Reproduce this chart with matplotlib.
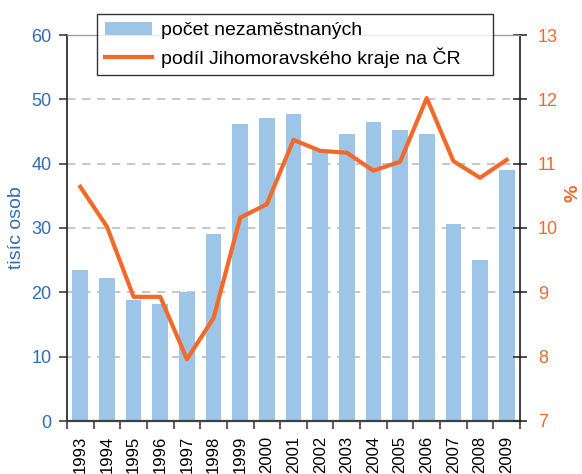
import numpy as np
import matplotlib
matplotlib.use('Agg')
import matplotlib.pyplot as plt

plt.rcParams['font.family'] = ['Liberation Sans', 'DejaVu Sans']

years = ['1993', '1994', '1995', '1996', '1997', '1998', '1999', '2000', '2001',
         '2002', '2003', '2004', '2005', '2006', '2007', '2008', '2009']
nezam = [23.5, 22.2, 18.8, 18.2, 20.1, 29.1, 46.2, 47.1, 47.7,
         42.1, 44.6, 46.5, 45.3, 44.6, 30.6, 25.0, 39.0]
podil = [10.64, 10.02, 8.93, 8.93, 7.96, 8.6, 10.16, 10.37, 11.37,
         11.2, 11.17, 10.89, 11.03, 12.02, 11.04, 10.78, 11.06]

blue = '#2f6db5'
orange = '#f26a2a'
bar_col = '#9dc5e8'

fig = plt.figure(figsize=(5.82, 4.74), dpi=100)
ax = fig.add_axes([67/582, 53/474, 453/582, 386/474])
ax2 = ax.twinx()

x = np.arange(len(years))
b = ax.bar(x, nezam, width=0.59, color=bar_col, zorder=2, label='počet nezaměstnaných')
l, = ax2.plot(x, podil, color=orange, lw=3, zorder=3, label='podíl Jihomoravského kraje na ČR')

ax.set_xlim(-0.5, len(years) - 0.5)
ax.set_ylim(0, 60)
ax.set_yticks(range(0, 61, 10))
ax2.set_ylim(7, 13)
ax2.set_yticks(range(7, 14))

for yv in range(10, 60, 10):
    ax.axhline(yv, color='#bdbdbd', lw=1.2, ls=(0, (5, 4)), zorder=1)

ax.set_xticks(x)
ax.set_xticklabels(years, rotation=90, fontsize=12,
                   family=['Liberation Sans Narrow', 'Liberation Sans'])
ax.tick_params(axis='x', which='major', length=0, pad=10.5)
ax.set_xticks(np.arange(-0.5, len(years)), minor=True)
ax.tick_params(axis='x', which='minor', length=6, width=1.2, color='#404040', direction='out')

ax.tick_params(axis='y', labelsize=13, labelcolor=blue, length=6, width=1.2, direction='out', color='#404040', pad=5)
ax2.tick_params(axis='y', labelsize=13, labelcolor=orange, length=10, width=1.2, direction='inout', color='#303030', pad=8)

ax.spines['top'].set_color('#999999')
ax2.spines['top'].set_color('#999999')
ax.spines['bottom'].set_color('#404040')
ax.spines['bottom'].set_linewidth(1.6)
ax2.spines['bottom'].set_visible(False)
ax.spines['left'].set_linewidth(1.2)
ax.spines['left'].set_color('#202020')
ax2.spines['right'].set_linewidth(1.2)
ax2.spines['right'].set_color('#202020')
ax.spines['right'].set_visible(False)
ax2.spines['left'].set_visible(False)

ax.set_ylabel('tisíc osob', color=blue, fontsize=14)
ax.yaxis.set_label_coords(-0.093, 0.5)
ax2.set_ylabel('%', color=orange, fontsize=14, fontweight='bold')
ax2.yaxis.set_label_coords(1.099, 0.59)

leg = fig.legend(handles=[b, l], loc='upper left',
                 bbox_to_anchor=(97/582, 1 - 81/474, 396/582, 67/474), mode='expand',
                 fontsize=14, frameon=True, fancybox=False, handlelength=2.45,
                 borderpad=0.4, labelspacing=0.4, handletextpad=0.45, borderaxespad=0)
leg.get_frame().set_edgecolor('black')
leg.get_frame().set_linewidth(1.0)

fig.savefig('out.png', dpi=100)
